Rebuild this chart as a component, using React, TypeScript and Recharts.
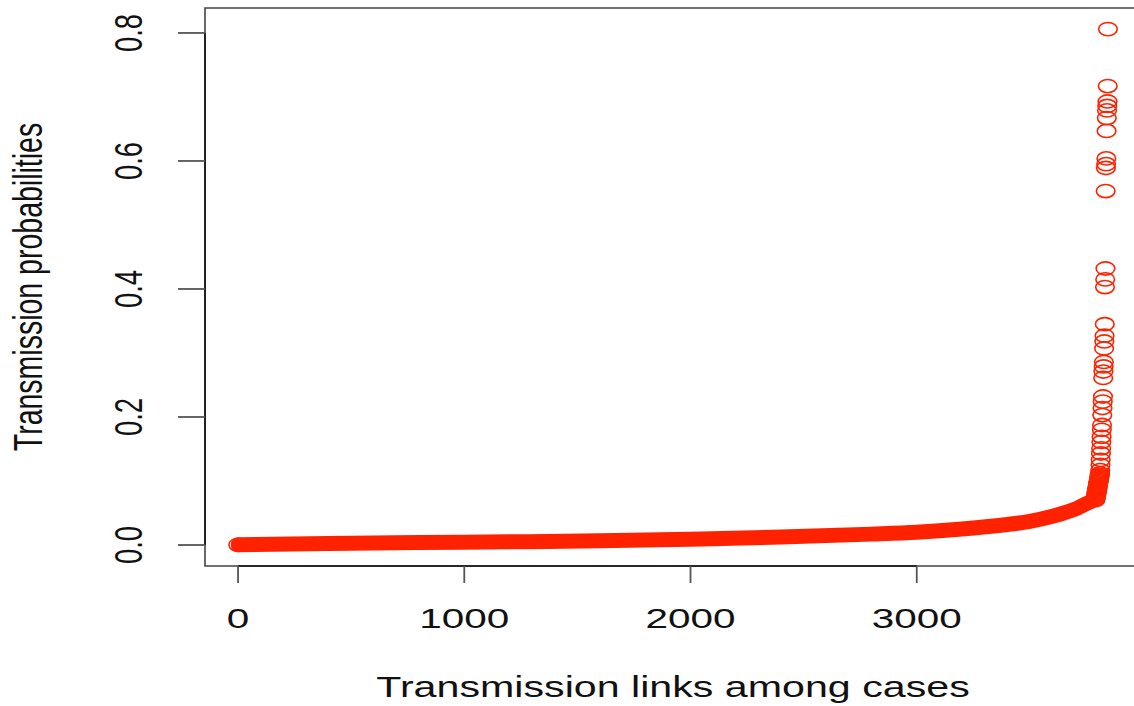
import { ComposedChart, Line, Scatter, XAxis, YAxis, ReferenceArea, ReferenceLine } from "recharts";

// rank positions (sorted order) sampled along the dense band
const bandRank = [1, 400, 800, 1200, 1600, 2000, 2400, 2800, 3000, 3200, 3400, 3500, 3600, 3650, 3700, 3740, 3765, 3780];
const bandProb = [0.0003, 0.0025, 0.004, 0.005, 0.0066, 0.009, 0.0125, 0.017, 0.02, 0.025, 0.032, 0.037, 0.045, 0.05, 0.056, 0.063, 0.067, 0.07];

// the last links, each drawn as its own circle
const tailProb = [
  0.07, 0.072, 0.074, 0.076, 0.078, 0.08, 0.082, 0.084, 0.086, 0.088, 0.09, 0.092,
  0.094, 0.096, 0.098, 0.1, 0.102, 0.104, 0.106, 0.108, 0.11, 0.112,
  0.117, 0.125, 0.133, 0.143, 0.151, 0.161, 0.169, 0.18, 0.1875, 0.203, 0.214, 0.224,
  0.232, 0.261, 0.271, 0.279, 0.286, 0.307, 0.318, 0.327, 0.345, 0.403, 0.415, 0.432,
  0.553, 0.589, 0.595, 0.604, 0.647, 0.667, 0.679, 0.686, 0.693, 0.717, 0.806,
];
const lastRank = 3845;

const xTicks = [0, 1000, 2000, 3000];
const yTicks = [0, 0.2, 0.4, 0.6, 0.8];

const RED = "#ff2200";
const FONT = "'Liberation Sans', Arial, Helvetica, sans-serif";
const SX = 1.42; // the picture is stretched sideways
const X_MIN = -146;
const X_MAX = 4000;
const Y_MIN = -0.0328;
const Y_MAX = 0.839;

const band = bandRank.map((x, i) => ({ x, p: bandProb[i] }));
const tail = tailProb.map((p, i) => ({ x: lastRank - tailProb.length + 1 + i, p }));
const dots = [band[0], ...tail];

function Ring(props: any) {
  const { cx, cy } = props;
  if (cx == null || cy == null) return null;
  return <ellipse cx={cx} cy={cy} rx={9.3} ry={6.6} fill="none" stroke={RED} strokeWidth={1.6} />;
}

function XTick({ x, payload }: any) {
  return (
    <text transform={`translate(${x},628) scale(${SX},1)`} textAnchor="middle" fontSize={28.5} fontFamily={FONT} fill="#111">
      {payload.value}
    </text>
  );
}

function YTick({ y, payload }: any) {
  return (
    <text transform={`translate(142,${y}) scale(${SX},1) rotate(-90)`} textAnchor="middle" fontSize={27.5} fontFamily={FONT} fill="#111">
      {Number(payload.value).toFixed(1)}
    </text>
  );
}

export default function App() {
  return (
    <div style={{ position: "absolute", left: 0, top: 0, width: 1134, height: 706, overflow: "hidden", background: "#fff" }}>
      <ComposedChart width={1160} height={706} margin={{ top: 8, right: 17, bottom: 0, left: 0 }}>
        <XAxis
          type="number"
          dataKey="x"
          domain={[X_MIN, X_MAX]}
          ticks={xTicks}
          height={140}
          tickSize={17}
          axisLine={false}
          tickLine={{ stroke: "#555", strokeWidth: 1.8 }}
          tick={<XTick />}
          allowDataOverflow
        />
        <YAxis
          type="number"
          dataKey="p"
          domain={[Y_MIN, Y_MAX]}
          ticks={yTicks}
          width={205}
          tickSize={27}
          axisLine={false}
          tickLine={{ stroke: "#555", strokeWidth: 1.8 }}
          tick={<YTick />}
          allowDataOverflow
        />
        <ReferenceArea x1={X_MIN} x2={X_MAX} y1={Y_MIN} y2={Y_MAX} fill="none" fillOpacity={0} stroke="#444" strokeWidth={1.6} ifOverflow="visible" />
        {/* R's axis lines run only between the outer ticks, on top of the box */}
        <ReferenceLine segment={[{ x: 0, y: Y_MIN }, { x: 3000, y: Y_MIN }]} stroke="#111" strokeWidth={1.6} ifOverflow="visible" />
        <ReferenceLine segment={[{ x: X_MIN, y: 0 }, { x: X_MIN, y: 0.8 }]} stroke="#111" strokeWidth={1.6} ifOverflow="visible" />
        <Line
          data={band}
          dataKey="p"
          type="monotone"
          stroke={RED}
          strokeWidth={15}
          strokeLinecap="round"
          strokeLinejoin="round"
          dot={false}
          activeDot={false}
          isAnimationActive={false}
        />
        <Scatter data={dots} dataKey="p" shape={<Ring />} isAnimationActive={false} />
        <text transform={`translate(673,697) scale(${SX},1)`} textAnchor="middle" fontSize={29} fontFamily={FONT} fill="#111">
          Transmission links among cases
        </text>
        <text transform={`translate(42,287) scale(${SX},1) rotate(-90)`} textAnchor="middle" fontSize={28.5} fontFamily={FONT} fill="#111">
          Transmission probabilities
        </text>
      </ComposedChart>
    </div>
  );
}
